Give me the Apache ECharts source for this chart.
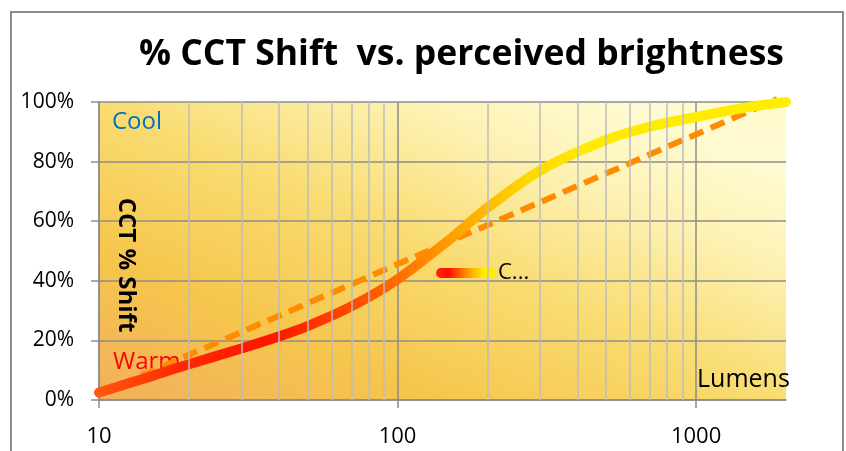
<!DOCTYPE html>
<html>
<head>
<meta charset="utf-8">
<script src="https://cdn.jsdelivr.net/npm/echarts@6/dist/echarts.min.js"></script>
<style>
  html, body { margin: 0; padding: 0; background: #fff; }
  #chart { width: 846px; height: 451px; }
</style>
</head>
<body>
<div id="chart"></div>
<script>
// data
const lumens = [10, 15, 20, 30, 40, 50, 70, 100, 150, 200, 300, 500, 700, 1000, 1500, 2000];
const cctShift = [2.5, 8, 12, 17.3, 21.3, 24.8, 31.4, 40.5, 54, 64.5, 77, 87.3, 91.7, 95, 98.3, 100];
const trendX = [10, 1870];
const trendY = [2, 101];
const majorTicks = [10, 100, 1000];
const minorLines = [20, 30, 40, 50, 60, 70, 80, 90, 200, 300, 400, 500, 600, 700, 800, 900];
const yTicks = [0, 20, 40, 60, 80, 100];

const FONT = '"Open Sans", "Noto Sans", sans-serif';
const G = echarts.graphic;

const chart = echarts.init(document.getElementById('chart'));

const curveGrad = new G.LinearGradient(0, 0, 1, 0, [
  { offset: 0, color: '#ff5a10' },
  { offset: 0.12, color: '#ff2a05' },
  { offset: 0.25, color: '#ff1500' },
  { offset: 0.37, color: '#ff4a00' },
  { offset: 0.44, color: '#ff7000' },
  { offset: 0.5, color: '#ff9800' },
  { offset: 0.56, color: '#ffb800' },
  { offset: 0.62, color: '#ffd600' },
  { offset: 0.7, color: '#ffea00' },
  { offset: 1, color: '#ffee00' }
]);

// plot background: gold preset, bands run along the top-left / bottom-right diagonal
const bgGrad = new G.LinearGradient(334, 502, 551, 0, [
  { offset: 0, color: '#f1b05c' },
  { offset: 0.25, color: '#f6c64c' },
  { offset: 0.5, color: '#f9dc72' },
  { offset: 0.72, color: '#fdf2b4' },
  { offset: 0.88, color: '#fffbd2' },
  { offset: 1, color: '#fffacc' }
], true);

const option = {
  animation: false,
  title: {
    text: '% CCT Shift  vs. perceived brightness',
    left: 134,
    top: 32,
    textStyle: { fontFamily: FONT, fontWeight: 'bold', fontSize: 35.5, color: '#000' }
  },
  legend: {
    left: 431,
    top: 257,
    itemWidth: 60,
    itemHeight: 12,
    itemGap: 0,
    data: [{
      name: 'CCT % Shift',
      icon: 'path://M5,0 H55 A5,5 0 0 1 55,10 H5 A5,5 0 0 1 5,0 Z',
      itemStyle: {
        color: new G.LinearGradient(0, 0, 1, 0, [
          { offset: 0, color: '#ff2a10' },
          { offset: 0.2, color: '#ff0a00' },
          { offset: 0.55, color: '#ffa000' },
          { offset: 0.8, color: '#ffee00' },
          { offset: 1, color: '#ffee00' }
        ])
      }
    }],
    formatter: () => 'C...',
    textStyle: { fontFamily: FONT, fontSize: 22, color: '#000', padding: [0, 0, 0, -3] }
  },
  grid: {
    left: 99, right: 60, top: 102, bottom: 51,
    show: true,
    borderWidth: 0,
    backgroundColor: bgGrad
  },
  xAxis: {
    type: 'log',
    logBase: 10,
    min: 10,
    max: 2000,
    axisLine: { show: true, onZero: false, lineStyle: { color: '#8c8c8c', width: 1.5 } },
    axisTick: { show: true, length: 8, customValues: majorTicks, lineStyle: { color: '#8c8c8c', width: 1.5 } },
    axisLabel: {
      fontFamily: FONT, fontSize: 22, color: '#000', margin: 26,
      customValues: majorTicks,
      formatter: v => String(v)
    },
    splitLine: { show: true, lineStyle: { color: '#8c8c8c', width: 1.5 } }
  },
  yAxis: {
    type: 'value',
    min: yTicks[0],
    max: yTicks[yTicks.length - 1],
    interval: 20,
    axisLine: { show: true, lineStyle: { color: '#8c8c8c', width: 1.5 } },
    axisTick: { show: true, length: 8, lineStyle: { color: '#8c8c8c', width: 1.5 } },
    axisLabel: { fontFamily: FONT, fontSize: 21, color: '#000', margin: 25, formatter: '{value}%' },
    splitLine: { show: true, lineStyle: { color: '#8c8c8c', width: 1.5 } }
  },
  graphic: [
    { type: 'rect', z: 0, shape: { x: 11, y: 12, width: 832, height: 470 }, style: { fill: 'none', stroke: '#8c8c8c', lineWidth: 2 } },
    { type: 'text', z: 1, left: 112, top: 110, style: { text: 'Cool', fill: '#0070c0', font: '24px ' + FONT } },
    { type: 'text', z: 1, left: 113, top: 350, style: { text: 'Warm', fill: '#ff0000', font: '24px ' + FONT } },
    { type: 'text', z: 1, left: 697, top: 367, style: { text: 'Lumens', fill: '#000', font: '25px ' + FONT } },
    {
      type: 'text', z: 1, x: 126, y: 265, rotation: -Math.PI / 2,
      style: { text: 'CCT % Shift', fill: '#000', font: 'bold 24px ' + FONT, align: 'center', verticalAlign: 'middle' }
    }
  ],
  series: [
    {
      name: 'minor',
      type: 'line',
      z: 1,
      data: [],
      silent: true,
      markLine: {
        silent: true,
        symbol: 'none',
        label: { show: false },
        lineStyle: { color: '#bdbdbd', width: 1.5, type: 'solid' },
        data: minorLines.map(v => ({ xAxis: v }))
      }
    },
    {
      name: 'trend',
      type: 'line',
      z: 3,
      clip: false,
      showSymbol: false,
      data: trendX.map((x, i) => [x, trendY[i]]),
      lineStyle: { color: '#ff8c00', width: 6, type: [15, 8] }
    },
    {
      name: 'CCT % Shift',
      type: 'line',
      z: 4,
      smooth: 0.3,
      showSymbol: false,
      data: lumens.map((x, i) => [x, cctShift[i]]),
      lineStyle: { color: curveGrad, width: 10, cap: 'round' }
    }
  ]
};

chart.setOption(option);
</script>
</body>
</html>
